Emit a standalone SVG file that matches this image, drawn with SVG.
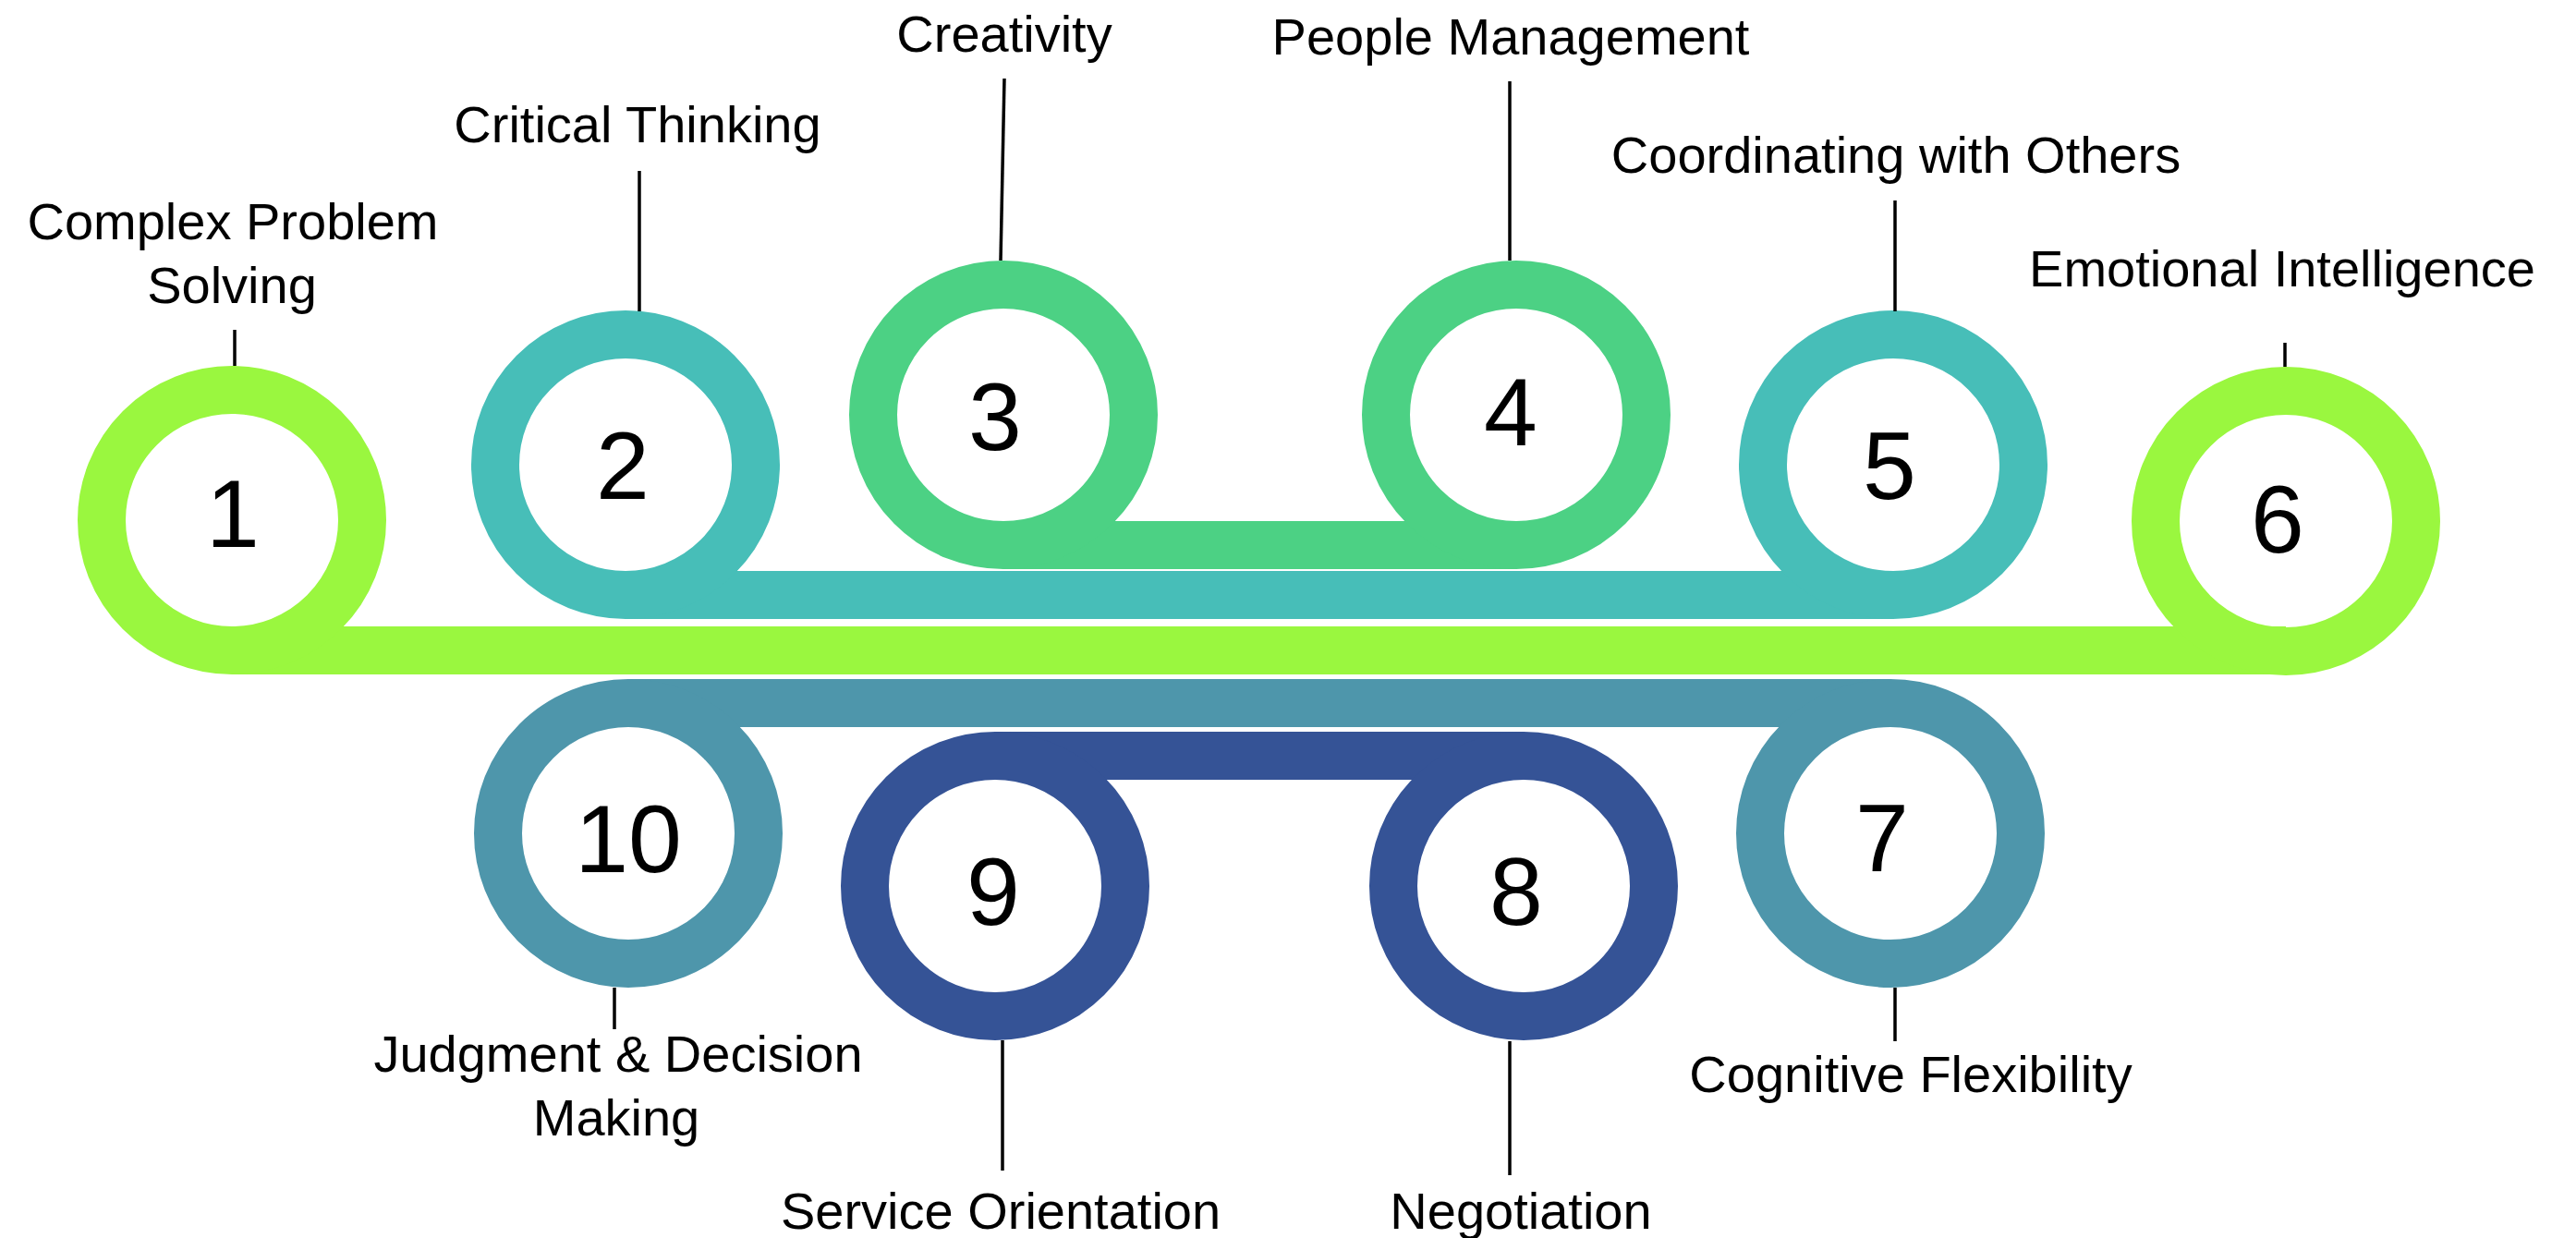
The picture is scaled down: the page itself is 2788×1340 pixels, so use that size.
<svg xmlns="http://www.w3.org/2000/svg" width="2788" height="1340" viewBox="0 0 2788 1340">
<style>
.ring{fill:none;stroke-width:52}
.bar{fill:none;stroke-width:52;stroke-linecap:butt}
.lime{stroke:#9AF73F}
.teal{stroke:#47BEB8}
.green{stroke:#4CD184}
.steel{stroke:#4E96AB}
.navy{stroke:#355396}
.num{font-family:"Liberation Sans",Arial,sans-serif;font-size:104px;fill:#000;text-anchor:middle}
.lbl{font-family:"Liberation Sans",Arial,sans-serif;font-size:56px;fill:#000;text-anchor:middle}
.lead{stroke:#000;stroke-width:3.5;fill:none}
</style>
<rect width="2788" height="1340" fill="#fff"/>
<g id="connectors">
<line class="bar lime" x1="251" y1="704" x2="2474" y2="704"/>
<line class="bar teal" x1="677" y1="644" x2="2049" y2="644"/>
<line class="bar green" x1="1086" y1="590" x2="1641" y2="590"/>
<line class="bar steel" x1="680" y1="761" x2="2046" y2="761"/>
<line class="bar navy" x1="1077" y1="818" x2="1649" y2="818"/>
</g>
<g id="node1">
<circle class="ring lime" cx="251" cy="563" r="141"/>
<text class="num" x="252" y="592">1</text>
<line class="lead" x1="254" y1="357" x2="254" y2="396"/>
<text class="lbl" x="252" y="259">Complex Problem</text>
<text class="lbl" x="251" y="328">Solving</text>
</g>
<g id="node2">
<circle class="ring teal" cx="677" cy="503" r="141"/>
<text class="num" x="674" y="540">2</text>
<line class="lead" x1="692" y1="185" x2="692" y2="337"/>
<text class="lbl" x="690" y="154">Critical Thinking</text>
</g>
<g id="node3">
<circle class="ring green" cx="1086" cy="449" r="141"/>
<text class="num" x="1077" y="487">3</text>
<line class="lead" x1="1087" y1="85" x2="1083" y2="282"/>
<text class="lbl" x="1087" y="56">Creativity</text>
</g>
<g id="node4">
<circle class="ring green" cx="1641" cy="449" r="141"/>
<text class="num" x="1635" y="482">4</text>
<line class="lead" x1="1634" y1="88" x2="1634" y2="282"/>
<text class="lbl" x="1635" y="59">People Management</text>
</g>
<g id="node5">
<circle class="ring teal" cx="2049" cy="503" r="141"/>
<text class="num" x="2045" y="540">5</text>
<line class="lead" x1="2051" y1="217" x2="2051" y2="337"/>
<text class="lbl" x="2052" y="187">Coordinating with Others</text>
</g>
<g id="node6">
<circle class="ring lime" cx="2474" cy="564" r="141"/>
<text class="num" x="2465" y="598">6</text>
<line class="lead" x1="2473" y1="371" x2="2473" y2="397"/>
<text class="lbl" x="2470" y="310">Emotional Intelligence</text>
</g>
<g id="node7">
<circle class="ring steel" cx="2046" cy="902" r="141"/>
<text class="num" x="2037" y="943">7</text>
<line class="lead" x1="2051" y1="1069" x2="2051" y2="1127"/>
<text class="lbl" x="2068" y="1182">Cognitive Flexibility</text>
</g>
<g id="node8">
<circle class="ring navy" cx="1649" cy="959" r="141"/>
<text class="num" x="1641" y="1001">8</text>
<line class="lead" x1="1634" y1="1127" x2="1634" y2="1272"/>
<text class="lbl" x="1646" y="1330">Negotiation</text>
</g>
<g id="node9">
<circle class="ring navy" cx="1077" cy="959" r="141"/>
<text class="num" x="1075" y="1001">9</text>
<line class="lead" x1="1085" y1="1126" x2="1085" y2="1267"/>
<text class="lbl" x="1083" y="1330">Service Orientation</text>
</g>
<g id="node10">
<circle class="ring steel" cx="680" cy="902" r="141"/>
<text class="num" x="680" y="944">10</text>
<line class="lead" x1="665" y1="1069" x2="665" y2="1114"/>
<text class="lbl" x="669" y="1160">Judgment &amp; Decision</text>
<text class="lbl" x="667" y="1229">Making</text>
</g>
</svg>
